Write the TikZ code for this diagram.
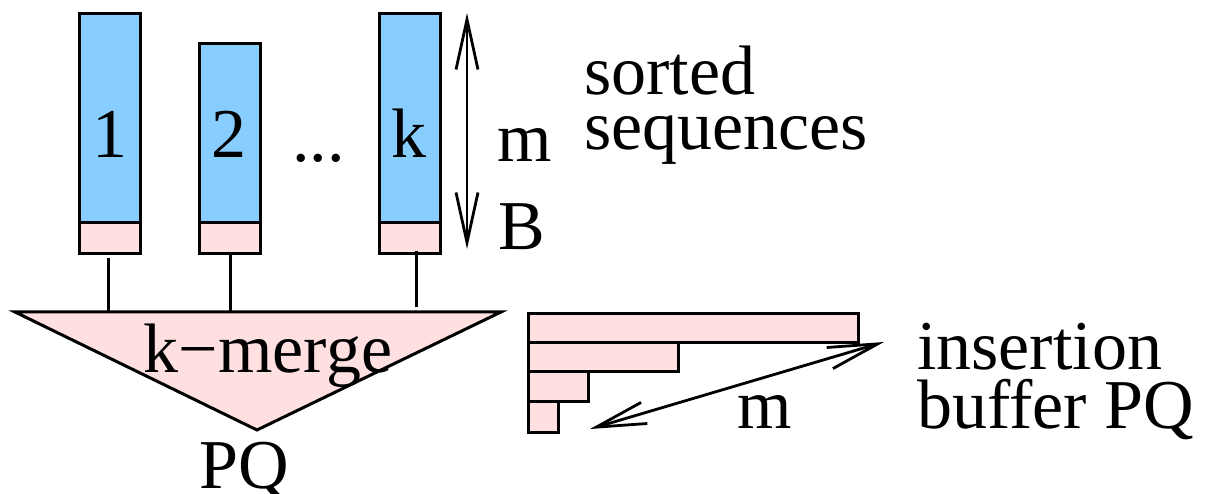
\documentclass[tikz,border=0pt]{standalone}
\usepackage{fontspec}
\setmainfont{Liberation Serif}
\newfontfamily\tms{Liberation Serif}
\usetikzlibrary{arrows.meta}
\definecolor{seqblue}{RGB}{135,206,255}
\definecolor{bufpink}{RGB}{255,224,224}
\begin{document}
\begin{tikzpicture}[x=1pt,y=-1pt,
  txt/.style={font=\tms\fontsize{70}{84}\selectfont, inner sep=0pt},
  seqbox/.style={draw, fill=seqblue, line width=3pt, minimum width=61pt, inner sep=0pt, anchor=north west},
  bufbox/.style={draw, fill=bufpink, line width=3pt, minimum width=61pt, minimum height=31pt, inner sep=0pt, anchor=north west},
  barbox/.style={draw, fill=bufpink, line width=3pt, inner sep=0pt, anchor=north west},
  conn/.style={line width=3pt},
  dbl/.style={line width=2.8pt, {Straight Barb[length=50pt,width=22pt]}-{Straight Barb[length=50pt,width=22pt]}}
]
\useasboundingbox (0,0) rectangle (1205,494);

% sorted sequences
\node[seqbox, minimum height=209pt] (s1) at (78,12) {};
\node[bufbox] (b1) at (78,221) {};
\node[seqbox, minimum height=179pt] (s2) at (198,42) {};
\node[bufbox] (b2) at (198,221) {};
\node[seqbox, minimum height=209pt] (sk) at (378,12) {};
\node[bufbox] (bk) at (378,221) {};

\node[txt, anchor=base] (l1) at (110,158) {1};
\node[txt, anchor=base] (l2) at (229,158) {2};
\node[txt, anchor=base] (lk) at (409,158) {k};
\node[txt, anchor=base west] (dots) at (292,162) {...};

% m / B arrow
\coordinate (mtop) at (467,13);
\coordinate (mbot) at (467,249);
\draw[dbl] (mbot) -- (mtop);
\node[txt, anchor=base west] (lm) at (497,162) {m};
\node[txt, anchor=base west] (lB) at (498,250) {B};
\node[txt, anchor=base west] (ls1) at (584,95) {sorted};
\node[txt, anchor=base west] (ls2) at (584,150) {sequences};

% k-merge triangle
\coordinate (tl) at (15,312);
\coordinate (tr) at (501,312);
\coordinate (tb) at (257,430);
\draw[line width=3pt, fill=bufpink, line join=miter] (tl) -- (tr) -- (tb) -- cycle;
\node[txt, anchor=base] (km) at (268,372) {k−merge};
\node[txt, anchor=base] (pq) at (244,488) {PQ};

% connectors
\draw[conn] ([xshift=-2pt,yshift=-3pt]b1.south) -- ([xshift=-2pt]b1.south |- tl);
\draw[conn] (b2.south) -- (b2.south |- tl);
\draw[conn] ([xshift=6.5pt,yshift=4pt]bk.south) -- ([xshift=6.5pt,yshift=5pt]bk.south |- tl);

% insertion buffer
\node[barbox, minimum width=330pt, minimum height=29pt] (r1) at (527,312) {};
\node[barbox, minimum width=150pt, minimum height=29pt] (r2) at (527,341) {};
\node[barbox, minimum width=60pt, minimum height=30pt] (r3) at (527,370) {};
\node[barbox, minimum width=30pt, minimum height=31pt] (r4) at (527,400) {};

\coordinate (ma) at (884,342);
\coordinate (mb) at (590,429);
\draw[dbl] (mb) -- (ma);
\node[txt, anchor=base west] (lm2) at (737,428) {m};
\node[txt, anchor=base west] (li1) at (917,370) {insertion};
\node[txt, anchor=base west] (li2) at (917,428) {buffer PQ};
\end{tikzpicture}
\end{document}
